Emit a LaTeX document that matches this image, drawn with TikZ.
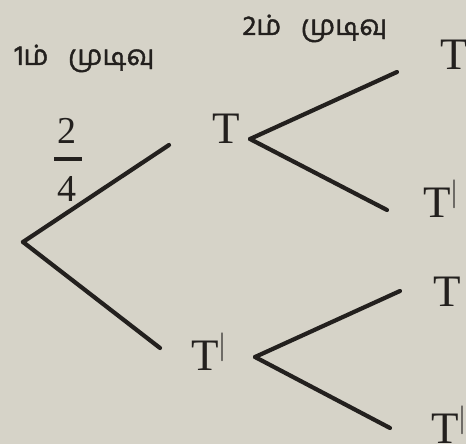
\documentclass[tikz,border=0pt]{standalone}
\usepackage{fontspec}
\newfontfamily\tamilfont[Script=Tamil,FakeBold=1.4]{Hind Madurai}
\newfontfamily\tfont{Liberation Serif}
\usetikzlibrary{positioning}
\definecolor{paper}{RGB}{214,211,200}
\definecolor{ink}{RGB}{35,32,30}

\begin{document}
\begin{tikzpicture}[x=0.5pt,y=-0.5pt,
    every node/.style={text=ink,inner sep=0pt},
    lbl/.style={font=\tfont\fontsize{22.5}{26}\selectfont,anchor=base west},
    num/.style={font=\tfont\fontsize{19}{22}\selectfont},
    head/.style={font=\tamilfont\fontsize{14}{17}\selectfont,anchor=base west},
    branch/.style={ink,line width=2.1pt,line cap=round},
  ]
  \useasboundingbox (0,0) rectangle (466,444);
  \fill[paper] (0,0) rectangle (466,444);
  % headings
  \node[head] (h1) at (14,65) {1ம்\hspace{0.7em}முடிவு};
  \node[head] (h2) at (242,35) {2ம்\hspace{0.7em}முடிவு};
  % branch points
  \coordinate (root) at (23,242);
  \coordinate (a1) at (169,145);
  \coordinate (a2) at (160,348);
  \coordinate (u) at (250,139);
  \coordinate (u1) at (397,72);
  \coordinate (u2) at (387,210);
  \coordinate (l) at (255,357);
  \coordinate (l1) at (400,291);
  \coordinate (l2) at (390,428);
  \foreach \a/\b in {root/a1,root/a2,u/u1,u/u2,l/l1,l/l2} {
    \draw[branch] (\a) -- (\b);
  }
  % probability
  \node[num] (n2) at (67,131) {2};
  \node[num] (d4) at (67,189) {4};
  \coordinate (bl) at (54,159);
  \coordinate (br) at (82,159);
  \draw[ink,line width=1.6pt] (bl) -- (br);
  % labels
  \node[lbl] (t) at (212,144) {T};
  \node[lbl] (tp) at (191,370) {T$^{|}$};
  \node[lbl] (tt) at (440,70) {T};
  \node[lbl] (ttp) at (423,217) {T$^{|}$};
  \node[lbl] (tpt) at (433,306) {T};
  \node[lbl] (tptp) at (431,443) {T$^{|}$};
\end{tikzpicture}
\end{document}
